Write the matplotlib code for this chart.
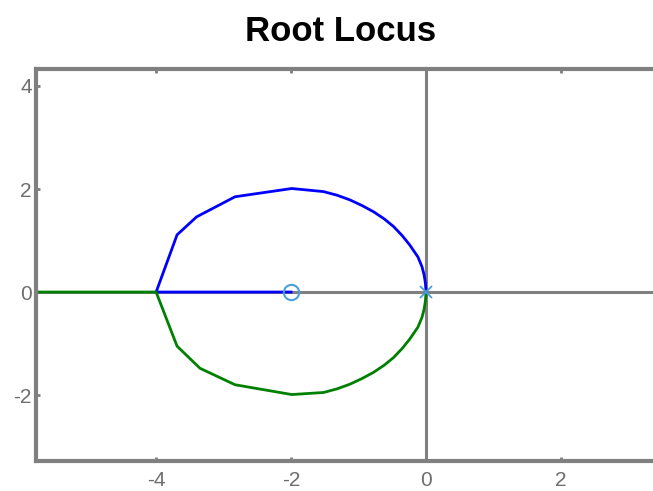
import matplotlib
matplotlib.use("Agg")
import matplotlib.pyplot as plt

# Root locus branches (real part, imaginary part)
upper_re = [0.0, -0.01, -0.03, -0.06, -0.12, -0.24, -0.35, -0.48, -0.62, -0.78,
            -0.95, -1.13, -1.32, -1.52, -1.99, -2.83, -3.40, -3.69, -4.0, -3.0, -2.0]
upper_im = [0.0, 0.18, 0.34, 0.49, 0.68, 0.91, 1.09, 1.27, 1.42, 1.56,
            1.68, 1.79, 1.88, 1.95, 2.01, 1.85, 1.46, 1.11, 0.0, 0.0, 0.0]

lower_re = [0.0, -0.01, -0.03, -0.06, -0.12, -0.24, -0.35, -0.48, -0.62, -0.78,
            -0.95, -1.13, -1.32, -1.52, -1.99, -2.83, -3.35, -3.69, -4.0, -5.0, -7.0]
lower_im = [0.0, -0.18, -0.34, -0.49, -0.68, -0.91, -1.09, -1.27, -1.42, -1.56,
            -1.68, -1.79, -1.88, -1.95, -1.99, -1.80, -1.48, -1.05, 0.0, 0.0, 0.0]

zeros_re = [-2.0]
zeros_im = [0.0]
poles_re = [0.0]
poles_im = [0.0]

x_ticks = [-4, -2, 0, 2]
y_ticks = [-2, 0, 2, 4]

plt.rcParams['font.family'] = ['Liberation Sans', 'DejaVu Sans']

W, H = 653, 491
fig = plt.figure(figsize=(W / 100, H / 100), dpi=100)
ax = fig.add_axes([36 / W, (H - 461) / H, (W - 36) / W, (461 - 69) / H])

gray = '#808080'
ax.axhline(0, color=gray, lw=2.2, zorder=1)
ax.axvline(0, color=gray, lw=2.2, zorder=1)

ax.plot(upper_re, upper_im, color='#0000ff', lw=2.0, zorder=2)
ax.plot(lower_re, lower_im, color='#008000', lw=2.0, zorder=2)

marker_col = '#4a9fdc'
ax.plot(zeros_re, zeros_im, 'o', ms=11, mfc='none', mec=marker_col, mew=1.5, zorder=3)
ax.plot(poles_re, poles_im, 'x', ms=8, mec=marker_col, mew=1.3, zorder=3)

ax.set_xlim(-5.78, 3.363)
ax.set_ylim(-3.28, 4.33)
ax.set_xticks(x_ticks)
ax.set_yticks(y_ticks)
ax.set_xticklabels([str(v) for v in x_ticks])
ax.set_yticklabels([str(v) for v in y_ticks])

for side in ['left', 'bottom', 'top']:
    ax.spines[side].set_color(gray)
    ax.spines[side].set_linewidth(3)
ax.spines['right'].set_visible(False)

ax.tick_params(axis='x', direction='in', length=3, width=2, color=gray,
               labelcolor='#6e6e6e', labelsize=15, pad=7, top=True)
ax.tick_params(axis='y', direction='in', length=3, width=2, color=gray,
               labelcolor='#6e6e6e', labelsize=15, pad=3)

fig.text(0.522, 0.935, 'Root Locus', ha='center', va='center',
         fontsize=25, fontweight='bold', color='black')

fig.savefig('out.png', dpi=100, facecolor='white')
